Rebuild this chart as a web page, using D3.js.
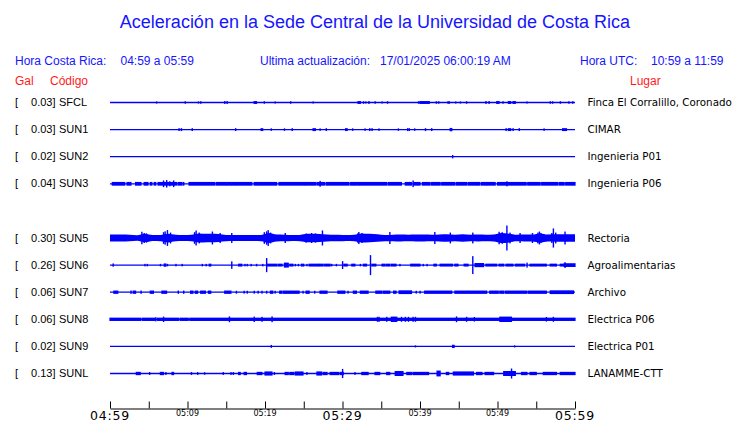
<!DOCTYPE html>
<html><head><meta charset="utf-8">
<script src="https://cdn.jsdelivr.net/npm/d3@7"></script>
<style>
html,body{margin:0;padding:0;background:#fff;}
svg{display:block;}
</style></head>
<body>
<svg id="chart" width="740" height="423"></svg>
<script>
// ---------- data ----------
const title = "Aceleración en la Sede Central de la Universidad de Costa Rica";
const horaCR = "04:59 a 05:59";
const horaUTC = "10:59 a 11:59";
const lastUpdate = "17/01/2025 06:00:19 AM";

const slots = ["SFCL","SUN1","SUN2","SUN3","SUN4","SUN5","SUN6","SUN7","SUN8","SUN9","SUNL"];
const codes = ["SFCL","SUN1","SUN2","SUN3","SUN5","SUN6","SUN7","SUN8","SUN9","SUNL"];
const galMax = ["0.03","0.03","0.02","0.04","0.30","0.26","0.06","0.06","0.02","0.13"];
const places = ["Finca El Corralillo, Coronado","CIMAR","Ingenieria P01","Ingenieria P06","Rectoria","Agroalimentarias","Archivo","Electrica P06","Electrica P01","LANAMME-CTT"];

const tickTimes = ["04:59","05:04","05:09","05:14","05:19","05:24","05:29","05:34","05:39","05:44","05:49","05:54","05:59"];
const tickLabels = ["04:59","05:09","05:19","05:29","05:39","05:49","05:59"];
const bigTickLabels = ["04:59","05:29","05:59"];

// events: [start minute, end minute, half amplitude in gal]
const evSFCL = [[6.0,6.0,.025],[9.7,9.7,.03],[11.4,11.4,.025],[11.7,11.7,.03],[14.8,14.8,.035],[15.1,15.1,.035],[18.6,18.9,.035],[19.9,19.9,.03],[21.3,21.3,.025],[23.3,23.3,.03],[26.2,26.2,.025],[32.0,32.3,.035],[32.7,32.7,.03],[33.0,33.0,.025],[33.4,33.4,.035],[34.2,34.2,.03],[35.1,35.1,.025],[35.8,35.8,.03],[39.8,39.8,.03],[40.0,41.2,.035],[42.1,42.1,.03],[42.4,42.4,.03],[43.6,43.8,.03],[44.6,44.6,.025],[45.2,45.2,.025],[46.0,46.0,.03],[48.5,48.5,.035],[48.9,48.9,.035],[49.9,50.2,.035],[50.7,50.7,.03],[51.4,51.7,.035],[52.0,52.3,.035],[53.8,53.8,.025],[56.8,56.8,.03],[57.1,57.1,.03],[58.1,58.1,.03],[59.2,59.2,.03],[59.7,59.7,.03]];
const evSUN1 = [[8.9,8.9,.035],[9.2,9.2,.035],[10.6,10.6,.035],[16.2,16.2,.035],[19.5,19.7,.035],[20.8,20.8,.03],[22.5,22.5,.03],[23.5,23.5,.035],[26.2,26.5,.035],[27.1,27.1,.03],[27.9,27.9,.035],[30.4,30.6,.035],[31.3,31.3,.03],[32.9,32.9,.03],[33.5,33.5,.035],[33.8,33.8,.035],[34.7,34.7,.03],[37.2,37.2,.03],[38.4,38.4,.035],[38.6,38.6,.035],[39.3,39.3,.03],[40.7,40.7,.035],[41.5,41.5,.035],[43.9,44.1,.04],[51.1,51.1,.035],[51.4,51.7,.035],[52.0,52.0,.035],[52.8,52.8,.035],[56.0,56.0,.03],[58.4,58.9,.035]];
const evSUN2 = [[44.2,44.2,.04]];
const evSUN3 = [[0.3,1.9,.045],[2.2,2.7,.045],[3.3,4.0,.045],[4.4,4.9,.045],[5.2,5.4,.045],[5.7,5.9,.045],[6.2,8.6,.045],[8.8,9.3,.045],[9.5,9.5,.045],[10.2,13.5,.045],[13.7,15.0,.045],[15.1,15.6,.045],[15.7,16.2,.045],[16.3,18.3,.045],[18.6,19.1,.045],[19.2,21.5,.045],[21.8,25.1,.045],[25.2,26.5,.045],[26.7,27.7,.045],[27.9,30.8,.045],[31.0,31.4,.045],[31.5,32.2,.045],[32.3,35.7,.045],[35.9,37.6,.045],[38.1,38.9,.045],[39.2,40.0,.045],[40.3,41.3,.045],[41.5,42.6,.045],[42.8,44.5,.045],[44.7,46.0,.045],[46.2,47.3,.045],[47.4,47.7,.045],[47.9,48.5,.045],[48.6,49.7,.045],[50.0,53.7,.045],[53.9,55.5,.045],[55.7,57.8,.045],[58.0,58.6,.045],[58.8,59.6,.045],[59.7,60,.045],
  [6.9,6.9,.08],[7.3,7.3,.09],[7.7,7.7,.06],[8.2,8.2,.08],[27.1,27.1,.07],[39.1,39.1,.08],[51.2,51.2,.06]];
const envSUN5 = [.085,.085,.08,.065,.1,.07,.075,.105,.08,.07,.08,.11,.1,.1,.085,.07,.07,.07,.07,.075,.12,.085,.08,.07,.075,.1,.1,.09,.08,.08,.07,.08,.11,.1,.09,.075,.08,.085,.08,.085,.085,.08,.085,.09,.08,.09,.08,.085,.08,.085,.12,.105,.08,.085,.085,.11,.085,.09,.09,.09];
const evSUN5 = [[4.1,4.1,.15],[4.4,4.4,.12],[4.7,4.7,.11],[6.9,6.9,.14],[7.1,7.1,.16],[7.4,7.4,.19],[7.8,7.8,.13],[10.9,10.9,.14],[11.1,11.1,.18],[11.5,11.5,.13],[13.2,13.2,.155],[14.2,14.2,.12],[15.7,15.7,.12],[19.9,19.9,.14],[20.2,20.2,.16],[20.4,20.4,.19],[20.7,20.7,.13],[22.6,22.6,.12],[25.3,25.3,.11],[26.0,26.0,.12],[26.5,26.5,.11],[27.4,27.4,.18],[32.0,32.0,.12],[32.1,32.1,.145],[32.5,32.5,.12],[36.1,36.1,.145],[41.9,41.9,.145],[43.9,43.9,.13],[46.8,46.8,.13],[50.2,50.2,.15],[50.6,50.6,.14],[51.2,51.2,.30],[51.6,51.6,.13],[52.9,52.9,.12],[54.5,54.5,.12],[55.2,55.2,.13],[55.4,55.4,.155],[55.6,55.6,.12],[57.0,57.0,.12],[57.2,57.2,.23],[57.5,57.5,.13],[58.7,58.7,.155]];
const evSUN6 = [[0.4,0.4,.04],[4.5,4.5,.03],[4.8,4.8,.03],[6.5,6.5,.03],[7.0,7.2,.04],[7.4,7.4,.03],[8.5,8.5,.03],[9.3,9.3,.03],[11.9,11.9,.03],[12.4,12.4,.03],[12.8,13.0,.035],[15.7,15.7,.09],[16.6,17.0,.035],[17.4,17.4,.03],[17.7,17.7,.03],[18.2,18.2,.03],[18.9,18.9,.03],[19.7,19.7,.03],[20.2,20.2,.17],[20.3,21.5,.035],[21.7,22.2,.035],[22.5,23.0,.06],[23.2,23.6,.035],[23.9,23.9,.03],[24.3,24.3,.03],[24.7,25.0,.035],[25.4,25.4,.03],[25.7,26.9,.035],[27.0,27.5,.035],[27.7,28.4,.035],[28.6,28.6,.03],[29.2,29.2,.03],[30.0,30.0,.095],[30.2,30.6,.035],[31.2,31.6,.035],[32.3,32.3,.03],[32.7,33.1,.035],[33.6,33.6,.24],[33.8,34.3,.035],[35.1,35.5,.035],[35.7,36.1,.035],[36.3,36.9,.035],[37.4,37.4,.03],[38.8,40.0,.035],[40.4,40.4,.03],[40.9,40.9,.03],[41.8,42.1,.035],[42.6,44.2,.035],[44.5,44.9,.035],[45.7,46.2,.035],[46.8,46.8,.215],[47.1,48.2,.05],[48.5,49.9,.035],[50.2,50.8,.035],[51.1,52.0,.035],[52.3,53.5,.035],[53.8,53.8,.06],[54.2,56.3,.035],[56.8,57.6,.035],[58.1,58.5,.035],[58.6,60.0,.045],[58.7,58.7,.07]];
const evSUN7 = [[0.5,1.0,.04],[2.7,2.7,.04],[3.0,3.3,.04],[4.0,4.0,.04],[5.2,5.6,.04],[6.7,7.3,.04],[8.8,8.8,.04],[9.5,9.5,.04],[10.4,10.7,.04],[11.0,11.3,.04],[11.7,12.3,.04],[12.7,13.0,.04],[14.8,15.6,.04],[16.3,16.3,.035],[17.3,17.3,.035],[17.7,17.7,.035],[18.6,18.6,.035],[19.1,19.1,.035],[19.6,19.6,.035],[20.2,20.2,.035],[20.7,21.0,.04],[21.3,21.3,.035],[21.9,22.2,.04],[22.4,24.4,.04],[24.9,24.9,.035],[25.3,25.7,.04],[26.4,26.4,.035],[27.1,28.0,.04],[29.4,30.3,.04],[30.7,30.7,.035],[31.4,31.8,.04],[32.3,33.3,.04],[34.3,35.1,.04],[35.3,36.1,.04],[36.6,36.9,.04],[37.3,38.9,.045],[39.5,39.5,.035],[40.0,40.0,.035],[40.6,44.1,.04],[44.5,46.1,.04],[46.2,48.6,.04],[49.0,50.1,.04],[50.3,50.8,.04],[51.0,53.8,.04],[54.0,56.3,.04],[56.8,59.8,.045]];
const evSUN8 = [[0,4.0,.04],[4.2,5.8,.04],[6.1,8.9,.04],[9.1,10.1,.04],[10.3,60,.04],[5.9,5.9,.05],[6.9,6.9,.065],[15.4,15.4,.07],[18.6,18.6,.065],[19.6,19.6,.06],[20.9,20.9,.07],[34.5,34.5,.06],[34.7,34.7,.06],[35.7,35.7,.06],[36.3,37.0,.065],[37.6,37.6,.06],[38.1,38.1,.06],[38.5,38.5,.06],[39.1,39.1,.06],[39.4,39.4,.06],[44.7,44.7,.07],[46.0,46.0,.06],[47.0,47.0,.055],[50.3,51.8,.065],[56.3,56.3,.055],[57.2,57.2,.06]];
const evSUN9 = [[20.8,20.8,.035],[39.4,39.4,.025],[44.2,44.4,.04],[52.2,52.2,.025]];
const evSUNL = [[3.4,3.9,.04],[5.1,5.1,.035],[6.5,6.9,.04],[7.2,7.2,.035],[8.0,8.2,.04],[10.5,10.5,.035],[11.3,11.3,.035],[12.2,12.2,.03],[14.6,14.6,.035],[15.6,15.6,.035],[15.9,15.9,.035],[16.6,16.8,.04],[17.3,17.6,.04],[19.0,19.6,.04],[20.0,20.9,.05],[21.2,21.2,.035],[22.6,23.0,.04],[23.2,23.7,.04],[23.9,24.9,.05],[25.4,25.4,.035],[26.7,27.3,.05],[27.5,28.0,.04],[28.4,29.5,.04],[29.7,30.1,.04],[30.0,30.0,.11],[31.6,31.6,.035],[32.5,33.3,.04],[34.2,34.8,.04],[35.7,36.1,.04],[36.8,37.8,.06],[38.3,38.9,.04],[39.1,41.1,.04],[42.2,42.6,.07],[43.4,43.7,.04],[44.3,46.9,.05],[47.3,48.0,.04],[48.4,49.5,.04],[50.8,52.3,.06],[51.8,51.8,.12],[53.1,53.8,.04],[54.2,55.0,.04],[55.9,57.6,.04],[58.1,60.0,.04]];

const events = [evSFCL, evSUN1, evSUN2, evSUN3, evSUN5, evSUN6, evSUN7, evSUN8, evSUN9, evSUNL];
const envelopes = [null, null, null, null, envSUN5, null, null, null, null, null];

// ---------- drawing ----------
const svg = d3.select("#chart");
const BLUE = "#0000ff", TBLUE = "#1515ff", RED = "#ff1a1a";
const sans = "'Liberation Sans', Arial, Helvetica, sans-serif";
const dejavu = "'DejaVu Sans', sans-serif";

const parseT = d3.timeParse("%Y-%m-%d %H:%M");
const toDate = s => parseT("2025-01-17 " + s);
const t0 = toDate(tickTimes[0]), t1 = toDate(tickTimes[tickTimes.length-1]);
const x = d3.scaleTime().domain([t0,t1]).range([110,575]);
const xm = m => x(new Date(+t0 + m*60000));
const y = d3.scalePoint().domain(slots).range([102.5,373.5]);
const amp = d3.scaleLinear().domain([0,0.30]).range([0,12.5]);

svg.append("text").attr("x",375).attr("y",28).attr("text-anchor","middle")
  .attr("font-family",sans).attr("font-size",18).attr("fill",TBLUE).text(title);

const hdr = [["Hora Costa Rica:",15],[horaCR,120.5],["Ultima actualización:",260],[lastUpdate,380],["Hora UTC:",580],[horaUTC,651]];
svg.selectAll("text.hdr").data(hdr).join("text").attr("class","hdr")
  .attr("x",d=>d[1]).attr("y",65).attr("font-family",sans).attr("font-size",12)
  .attr("fill",TBLUE).text(d=>d[0]);

const red = [["Gal",15],["Código",50],["Lugar",630]];
svg.selectAll("text.red").data(red).join("text").attr("class","red")
  .attr("x",d=>d[1]).attr("y",85).attr("font-family",sans).attr("font-size",12)
  .attr("fill",RED).text(d=>d[0]);

const rows = svg.selectAll("g.row").data(codes).join("g").attr("class","row")
  .attr("transform",d=>`translate(0,${y(d)})`);

rows.append("text").attr("x",15).attr("y",3.5).attr("font-family",sans).attr("font-size",11).text("[");
rows.append("text").attr("x",55.5).attr("y",3.5).attr("text-anchor","end").attr("font-family",sans).attr("font-size",11).text((d,i)=>galMax[i]+"]");
rows.append("text").attr("x",59).attr("y",3.5).attr("font-family",sans).attr("font-size",11).text(d=>d);
rows.append("text").attr("x",587.5).attr("y",3.5).attr("font-family",dejavu).attr("font-size",10.3).text((d,i)=>places[i]);

rows.append("line").attr("x1",x(t0)).attr("x2",x(t1)).attr("y1",0).attr("y2",0)
  .attr("stroke",BLUE).attr("stroke-width",1.3);

const area = d3.area().curve(d3.curveMonotoneX)
  .x(p=>xm(p[0])).y0(p=>-amp(p[1])).y1(p=>amp(p[1]));

rows.each(function(d,i){
  const g = d3.select(this);
  const env = envelopes[i];
  if (env) {
    const pts = [[0,env[0]]].concat(env.map((v,k)=>[k+0.5,v])).concat([[60,env[env.length-1]]]);
    g.append("path").attr("d",area(pts)).attr("fill",BLUE);
  }
  g.selectAll("rect.ev").data(events[i]).join("rect").attr("class","ev")
    .attr("x",e=>xm(e[0])-0.6)
    .attr("width",e=>Math.max(1.4, xm(e[1])-xm(e[0])+1.2))
    .attr("y",e=>-amp(e[2])).attr("height",e=>2*amp(e[2])).attr("fill",BLUE);
});

// time axis
const axis = d3.axisBottom(x).tickValues(tickTimes.map(toDate)).tickSize(-7).tickSizeOuter(0).tickFormat("");
const ax = svg.append("g").attr("transform","translate(0,408.5)").call(axis);
ax.select(".domain").attr("stroke","#000").attr("stroke-width",1);
ax.selectAll(".tick line").attr("stroke","#000").attr("stroke-width",1);

svg.selectAll("text.tl").data(tickLabels).join("text").attr("class","tl")
  .attr("x",d=>x(toDate(d))).attr("text-anchor","middle")
  .attr("y",d=>bigTickLabels.includes(d)?420:416)
  .attr("font-family",dejavu)
  .attr("font-size",d=>bigTickLabels.includes(d)?12.5:8)
  .attr("letter-spacing",d=>bigTickLabels.includes(d)?0.8:0)
  .text(d=>d);
</script>
</body></html>
